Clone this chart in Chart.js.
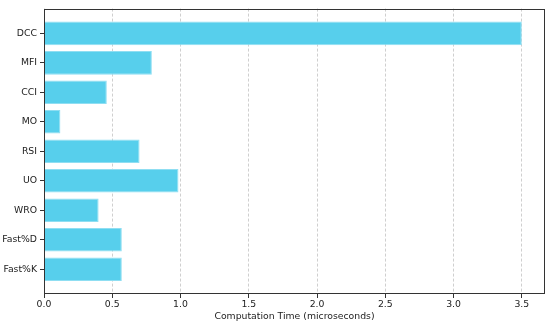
<!DOCTYPE html>
<html>
<head>
<meta charset="utf-8">
<script src="https://cdn.jsdelivr.net/npm/chart.js@4/dist/chart.umd.min.js"></script>
<style>
  html, body { margin: 0; padding: 0; background: #ffffff; }
  #c { display: block; }
</style>
</head>
<body>
<canvas id="c" width="550" height="325"></canvas>
<script>
// ---- data ----
const categories = ["DCC", "MFI", "CCI", "MO", "RSI", "UO", "WRO", "Fast%D", "Fast%K"];
const computationTimes = [3.50, 0.79, 0.46, 0.12, 0.70, 0.985, 0.40, 0.57, 0.57];
const xTickValues = [0, 0.5, 1.0, 1.5, 2.0, 2.5, 3.0, 3.5];
const xAxisTitle = "Computation Time (microseconds)";

const points = computationTimes.map((v, i) => ({ x: v, y: i }));
const FONT = { family: 'DejaVu Sans', size: 9.3 };

const framePlugin = {
  id: 'frame',
  afterDatasetsDraw(chart) {
    const a = chart.chartArea;
    const ctx = chart.ctx;
    ctx.save();
    ctx.strokeStyle = '#333333';
    ctx.lineWidth = 1;
    ctx.strokeRect(Math.round(a.left) + 0.5, Math.round(a.top) + 0.5,
                   Math.round(a.right - a.left) - 1, Math.round(a.bottom - a.top) - 1);
    ctx.restore();
  }
};

new Chart(document.getElementById('c'), {
  type: 'bar',
  data: {
    datasets: [{
      data: points,
      backgroundColor: '#57cfec',
      borderColor: '#8fdef2',
      borderWidth: 1,
      barPercentage: 1.0,
      categoryPercentage: 0.8
    }]
  },
  options: {
    indexAxis: 'y',
    responsive: false,
    animation: false,
    layout: { padding: { top: 4, right: 5, left: 0, bottom: 0 } },
    plugins: { legend: { display: false }, tooltip: { enabled: false } },
    scales: {
      x: {
        type: 'linear',
        min: 0,
        max: 3.67,
        offset: false,
        afterBuildTicks: (axis) => { axis.ticks = xTickValues.map(v => ({ value: v })); },
        afterFit: (scale) => { scale.height = 31; },
        ticks: {
          color: '#222222',
          font: FONT,
          padding: 1,
          maxRotation: 0,
          callback: (v) => Number(v).toFixed(1)
        },
        grid: {
          offset: false,
          color: '#cfcfcf',
          borderDash: [3, 2],
          tickColor: '#333333',
          tickBorderDash: [],
          tickLength: 4,
          drawTicks: true
        },
        border: { display: false, dash: [3, 2] },
        title: {
          display: true,
          text: xAxisTitle,
          color: '#222222',
          font: FONT,
          padding: { top: 0, bottom: 3 }
        }
      },
      y: {
        type: 'linear',
        reverse: true,
        min: -0.84,
        max: 8.84,
        offset: false,
        afterBuildTicks: (axis) => { axis.ticks = categories.map((_, i) => ({ value: i })); },
        afterFit: (scale) => { scale.width = 44; },
        ticks: {
          color: '#222222',
          font: FONT,
          padding: 3,
          callback: (v) => categories[v]
        },
        grid: {
          offset: false,
          drawOnChartArea: false,
          drawTicks: true,
          tickLength: 4,
          tickColor: '#333333'
        },
        border: { display: false }
      }
    }
  },
  plugins: [framePlugin]
});
</script>
</body>
</html>
